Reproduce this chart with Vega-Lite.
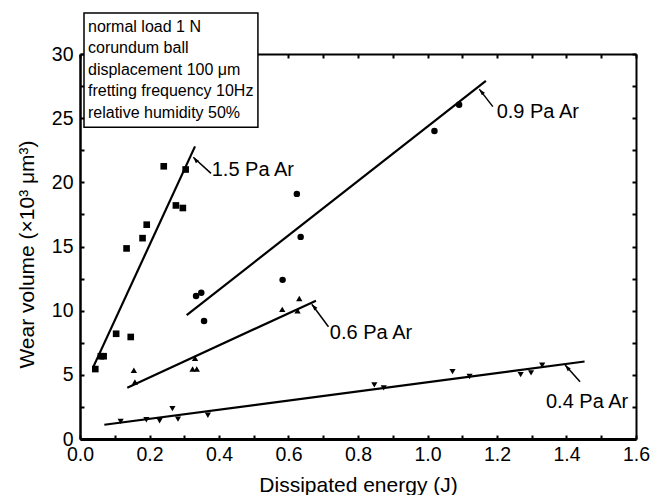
{
  "$schema": "https://vega.github.io/schema/vega-lite/v6.json",
  "width": 556,
  "height": 385,
  "autosize": {"type": "none"},
  "padding": {"left": 80, "top": 54, "right": 16, "bottom": 56},
  "background": "white",
  "config": {"view": {"stroke": null}, "font": "Liberation Sans"},
  "datasets": {
    "points": [
      {"series": "1.5", "energy": 0.044, "wear": 5.45},
      {"series": "1.5", "energy": 0.060, "wear": 6.45},
      {"series": "1.5", "energy": 0.068, "wear": 6.45},
      {"series": "1.5", "energy": 0.104, "wear": 8.2},
      {"series": "1.5", "energy": 0.134, "wear": 14.85},
      {"series": "1.5", "energy": 0.146, "wear": 7.95},
      {"series": "1.5", "energy": 0.180, "wear": 15.65},
      {"series": "1.5", "energy": 0.192, "wear": 16.7},
      {"series": "1.5", "energy": 0.241, "wear": 21.25},
      {"series": "1.5", "energy": 0.276, "wear": 18.2},
      {"series": "1.5", "energy": 0.296, "wear": 18.0},
      {"series": "1.5", "energy": 0.304, "wear": 21.0},
      {"series": "0.9", "energy": 0.334, "wear": 11.15},
      {"series": "0.9", "energy": 0.349, "wear": 11.4},
      {"series": "0.9", "energy": 0.357, "wear": 9.2},
      {"series": "0.9", "energy": 0.583, "wear": 12.4},
      {"series": "0.9", "energy": 0.624, "wear": 19.1},
      {"series": "0.9", "energy": 0.635, "wear": 15.75},
      {"series": "0.9", "energy": 1.020, "wear": 24.0},
      {"series": "0.9", "energy": 1.091, "wear": 26.05},
      {"series": "0.6", "energy": 0.155, "wear": 5.35},
      {"series": "0.6", "energy": 0.158, "wear": 4.45},
      {"series": "0.6", "energy": 0.324, "wear": 5.45},
      {"series": "0.6", "energy": 0.336, "wear": 5.45},
      {"series": "0.6", "energy": 0.331, "wear": 6.3},
      {"series": "0.6", "energy": 0.582, "wear": 10.1},
      {"series": "0.6", "energy": 0.626, "wear": 10.0},
      {"series": "0.6", "energy": 0.631, "wear": 10.95},
      {"series": "0.4", "energy": 0.117, "wear": 1.37},
      {"series": "0.4", "energy": 0.191, "wear": 1.5},
      {"series": "0.4", "energy": 0.229, "wear": 1.42},
      {"series": "0.4", "energy": 0.266, "wear": 2.37},
      {"series": "0.4", "energy": 0.282, "wear": 1.55},
      {"series": "0.4", "energy": 0.368, "wear": 1.85},
      {"series": "0.4", "energy": 0.847, "wear": 4.22},
      {"series": "0.4", "energy": 0.874, "wear": 3.98},
      {"series": "0.4", "energy": 1.072, "wear": 5.25},
      {"series": "0.4", "energy": 1.121, "wear": 4.87},
      {"series": "0.4", "energy": 1.268, "wear": 5.02},
      {"series": "0.4", "energy": 1.298, "wear": 5.15},
      {"series": "0.4", "energy": 1.330, "wear": 5.75}
    ],
    "fits": [
      {"series": "1.5", "energy": 0.038, "wear": 5.6},
      {"series": "1.5", "energy": 0.331, "wear": 22.8},
      {"series": "0.9", "energy": 0.307, "wear": 9.66},
      {"series": "0.9", "energy": 1.168, "wear": 27.9},
      {"series": "0.6", "energy": 0.136, "wear": 4.0},
      {"series": "0.6", "energy": 0.679, "wear": 10.78},
      {"series": "0.4", "energy": 0.070, "wear": 1.11},
      {"series": "0.4", "energy": 1.452, "wear": 6.04}
    ],
    "labels": [
      {"label": "1.5 Pa Ar", "energy": 0.379, "wear": 20.94, "tail_e": 0.377, "tail_w": 20.7, "head_e": 0.326, "head_w": 21.96},
      {"label": "0.9 Pa Ar", "energy": 1.199, "wear": 25.49, "tail_e": 1.188, "tail_w": 25.9, "head_e": 1.149, "head_w": 27.26},
      {"label": "0.6 Pa Ar", "energy": 0.719, "wear": 8.24, "tail_e": 0.715, "tail_w": 8.75, "head_e": 0.667, "head_w": 10.5},
      {"label": "0.4 Pa Ar", "energy": 1.341, "wear": 2.91, "tail_e": 1.439, "tail_w": 4.47, "head_e": 1.396, "head_w": 5.77}
    ],
    "box": [
      {"x": 0.0115, "x2": 0.512, "y": 24.3, "y2": 33.2}
    ],
    "conditions": [
      {"line": "normal load 1 N", "energy": 0.023, "wear": 32.11},
      {"line": "corundum ball", "energy": 0.023, "wear": 30.44},
      {"line": "displacement 100 μm", "energy": 0.023, "wear": 28.76},
      {"line": "fretting frequency 10Hz", "energy": 0.023, "wear": 27.09},
      {"line": "relative humidity 50%", "energy": 0.023, "wear": 25.41}
    ]
  },
  "layer": [
    {
      "data": {"name": "fits"},
      "mark": {"type": "line", "color": "black", "strokeWidth": 2.2},
      "encoding": {
        "x": {"field": "energy", "type": "quantitative", "scale": {"domain": [0, 1.6], "nice": false, "zero": false},
          "axis": {"orient": "top", "values": [0,0.1,0.2,0.3,0.4,0.5,0.6,0.7,0.8,0.9,1.0,1.1,1.2,1.3,1.4,1.5,1.6], "labels": false, "tickSize": -4, "tickWidth": 2, "tickColor": "black", "domainColor": "black", "domainWidth": 2, "grid": false, "title": null}},
        "y": {"field": "wear", "type": "quantitative", "scale": {"domain": [0, 30], "nice": false, "zero": false},
          "axis": {"orient": "right", "values": [0,2.5,5,7.5,10,12.5,15,17.5,20,22.5,25,27.5,30], "labels": false, "tickSize": -4, "tickWidth": 2, "tickColor": "black", "domainColor": "black", "domainWidth": 2, "grid": false, "title": null}},
        "detail": {"field": "series"}
      }
    },
    {
      "data": {"name": "points"},
      "mark": {"type": "point", "filled": true, "color": "black", "opacity": 1},
      "encoding": {
        "x": {"field": "energy", "type": "quantitative", "scale": {"domain": [0, 1.6], "nice": false, "zero": false},
          "axis": {"orient": "bottom", "values": [0,0.1,0.2,0.3,0.4,0.5,0.6,0.7,0.8,0.9,1.0,1.1,1.2,1.3,1.4,1.5,1.6],
            "labelExpr": "round(datum.value*10)%2==0 ? format(datum.value,'.1f') : ''",
            "tickSize": -4, "tickWidth": 2, "tickColor": "black", "domainColor": "black", "domainWidth": 3,
            "labelFontSize": 19.5, "labelColor": "black", "labelPadding": 10, "labelOverlap": false, "labelFlush": false, "grid": false,
            "title": "Dissipated energy (J)", "titleFontSize": 21, "titleFontWeight": "normal", "titleColor": "black", "titleY": 52, "titleBaseline": "alphabetic"}},
        "y": {"field": "wear", "type": "quantitative", "scale": {"domain": [0, 30], "nice": false, "zero": false},
          "axis": {"orient": "left", "values": [0,2.5,5,7.5,10,12.5,15,17.5,20,22.5,25,27.5,30],
            "labelExpr": "datum.value%5==0 ? format(datum.value,'d') : ''",
            "tickSize": -4, "tickWidth": 2, "tickColor": "black", "domainColor": "black", "domainWidth": 2.5,
            "labelFontSize": 19.5, "labelColor": "black", "labelPadding": 11, "labelOverlap": false, "labelFlush": false, "grid": false,
            "title": "Wear volume (×10³ μm³)", "titleFontSize": 21, "titleFontWeight": "normal", "titleColor": "black",
            "titleX": -53, "titleY": 200, "titleBaseline": "middle", "titleAlign": "center", "titleAngle": -90}},
        "shape": {"field": "series", "type": "nominal", "scale": {"domain": ["1.5", "0.9", "0.6", "0.4"], "range": ["square", "circle", "triangle-up", "triangle-down"]}, "legend": null},
        "size": {"field": "series", "type": "nominal", "scale": {"domain": ["1.5", "0.9", "0.6", "0.4"], "range": [44, 38, 64, 64]}, "legend": null}
      }
    },
    {
      "data": {"name": "labels"},
      "mark": {"type": "rule", "color": "black", "strokeWidth": 1.5},
      "encoding": {
        "x": {"field": "tail_e", "type": "quantitative", "axis": null},
        "x2": {"field": "head_e"},
        "y": {"field": "tail_w", "type": "quantitative", "axis": null},
        "y2": {"field": "head_w"}
      }
    },
    {
      "data": {"name": "labels"},
      "mark": {"type": "point", "shape": "M0,0L-0.5,1.6L0.5,1.6Z", "angle": 320, "size": 64, "filled": true, "color": "black", "opacity": 1},
      "encoding": {
        "x": {"field": "head_e", "type": "quantitative", "axis": null},
        "y": {"field": "head_w", "type": "quantitative", "axis": null}
      }
    },
    {
      "data": {"name": "labels"},
      "mark": {"type": "text", "align": "left", "baseline": "middle", "fontSize": 20, "color": "black"},
      "encoding": {
        "x": {"field": "energy", "type": "quantitative", "axis": null},
        "y": {"field": "wear", "type": "quantitative", "axis": null},
        "text": {"field": "label"}
      }
    },
    {
      "data": {"name": "box"},
      "mark": {"type": "rect", "fill": "white", "stroke": "black", "strokeWidth": 1.5},
      "encoding": {
        "x": {"field": "x", "type": "quantitative", "axis": null},
        "x2": {"field": "x2"},
        "y": {"field": "y", "type": "quantitative", "axis": null},
        "y2": {"field": "y2"}
      }
    },
    {
      "data": {"name": "conditions"},
      "mark": {"type": "text", "align": "left", "baseline": "middle", "fontSize": 16, "color": "black"},
      "encoding": {
        "x": {"field": "energy", "type": "quantitative", "axis": null},
        "y": {"field": "wear", "type": "quantitative", "axis": null},
        "text": {"field": "line"}
      }
    }
  ],
  "resolve": {"axis": {"x": "independent", "y": "independent"}}
}
